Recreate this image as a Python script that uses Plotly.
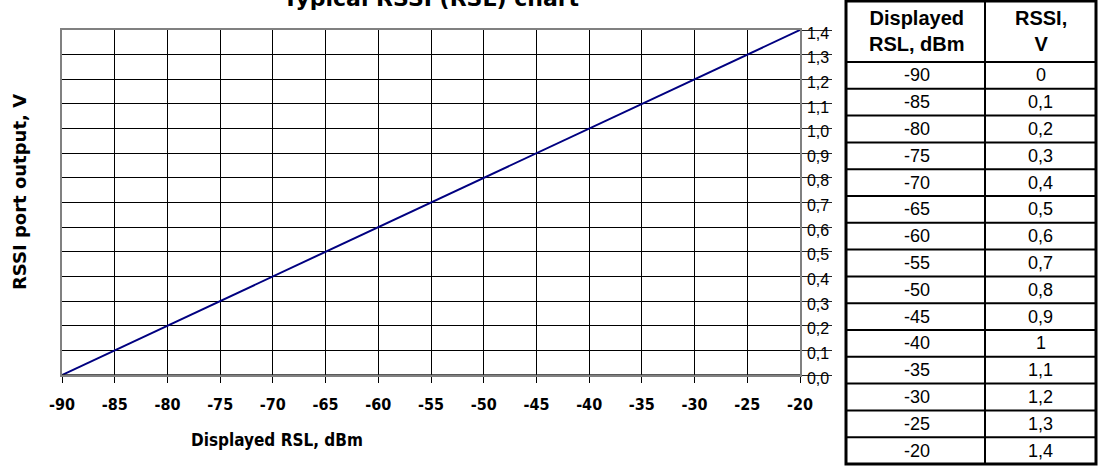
import plotly.graph_objects as go

# ---- data ----
rsl_dbm = [-90, -85, -80, -75, -70, -65, -60, -55, -50, -45, -40, -35, -30, -25, -20]
rssi_v = [0.0, 0.1, 0.2, 0.3, 0.4, 0.5, 0.6, 0.7, 0.8, 0.9, 1.0, 1.1, 1.2, 1.3, 1.4]
x_ticks = [-90, -85, -80, -75, -70, -65, -60, -55, -50, -45, -40, -35, -30, -25, -20]
title_text = "Typical RSSI (RSL) chart"
x_title = "Displayed RSL, dBm"
y_title = "RSSI port output, V"
table_headers = ["Displayed<br>RSL, dBm", "RSSI,<br>V"]

# ---- layout geometry (pixels) ----
W, H = 1098, 466
L, R, T, B = 62, 800, 30, 375


def fx(px):
    return (px - L) / (R - L)


def fy(py):
    return (B - py) / (B - T)


FONT = "Liberation Sans, Arial, sans-serif"
WIDE = "DejaVu Sans, Verdana, sans-serif"
COND = "DejaVu Sans Condensed, Liberation Sans, Arial, sans-serif"

fig = go.Figure()
fig.add_trace(go.Scatter(
    x=rsl_dbm, y=rssi_v, mode="lines",
    line=dict(color="#000080", width=2),
    showlegend=False, hoverinfo="skip", cliponaxis=False,
))

fig.update_layout(
    width=W, height=H,
    margin=dict(l=L, r=W - R, t=T, b=H - B, autoexpand=False),
    paper_bgcolor="white", plot_bgcolor="white",
    separators=", ",
    showlegend=False,
    xaxis=dict(
        range=[-90, -20], tickvals=x_ticks, ticktext=[str(v) for v in x_ticks],
        showgrid=True, gridcolor="black", gridwidth=1,
        showline=True, linecolor="#808080", linewidth=1.5, mirror=True,
        ticks="outside", ticklen=6, tickcolor="black", tickwidth=1,
        ticklabelstandoff=8,
        tickfont=dict(family=COND, size=16, color="black", weight="bold"),
        zeroline=False,
    ),
    yaxis=dict(
        range=[0, 1.4], dtick=0.1, tick0=0, tickformat=".1f", side="right",
        showgrid=True, gridcolor="black", gridwidth=1,
        showline=True, linecolor="#808080", linewidth=1.5, mirror=True,
        ticks="outside", ticklen=30, tickcolor="#222", tickwidth=1,
        ticklabelstandoff=-28, ticklabelshift=3,
        tickfont=dict(family=FONT, size=16, color="black"),
        zeroline=False,
    ),
)

# dark baseline at y = 0
fig.add_shape(type="line", xref="paper", yref="y", x0=0, x1=1, y0=0, y1=0,
              line=dict(color="#222", width=1.5))

annotations = []
# chart title (cut off at top, as in the reference)
annotations.append(dict(text="<b>%s</b>" % title_text, xref="paper", yref="paper",
                        x=fx(431), y=fy(13), xanchor="center", yanchor="bottom",
                        showarrow=False, font=dict(family=WIDE, size=22, color="black")))
# x title
annotations.append(dict(text="<b>%s</b>" % x_title, xref="paper", yref="paper",
                        x=fx(277), y=fy(440), xanchor="center", yanchor="middle",
                        showarrow=False, font=dict(family=COND, size=17, color="black")))
# y title
annotations.append(dict(text="<b>%s</b>" % y_title, xref="paper", yref="paper",
                        x=fx(20), y=fy(192), xanchor="center", yanchor="middle", textangle=-90,
                        showarrow=False, font=dict(family=WIDE, size=18, color="black")))

# ---- table ----
tL, tM, tR = 846, 985, 1096
tTop, tHead, tBot = 1, 62, 464
n = len(rsl_dbm)
rowh = (tBot - tHead) / n
shapes = []
for i in range(n):
    yy = tHead + i * rowh
    shapes.append(dict(type="line", xref="paper", yref="paper",
                       x0=fx(tL), x1=fx(tR), y0=fy(yy), y1=fy(yy),
                       line=dict(color="black", width=2)))
shapes.append(dict(type="line", xref="paper", yref="paper",
                   x0=fx(tM), x1=fx(tM), y0=fy(tTop), y1=fy(tBot),
                   line=dict(color="black", width=2)))
shapes.append(dict(type="rect", xref="paper", yref="paper",
                   x0=fx(tL), x1=fx(tR), y0=fy(tTop), y1=fy(tBot),
                   line=dict(color="black", width=3)))
for s in shapes:
    fig.add_shape(**s)

c1 = (tL + tM) / 2 + 2
c2 = (tM + tR) / 2
for txt, cx in zip(table_headers, [c1, c2]):
    annotations.append(dict(text="<b>%s</b>" % txt, xref="paper", yref="paper",
                            x=fx(cx), y=fy((tTop + tHead) / 2), xanchor="center", yanchor="middle",
                            showarrow=False, font=dict(family=FONT, size=20, color="black")))
for i, (a, b) in enumerate(zip(rsl_dbm, rssi_v)):
    yc = tHead + (i + 0.5) * rowh
    annotations.append(dict(text=str(a), xref="paper", yref="paper",
                            x=fx(c1), y=fy(yc), xanchor="center", yanchor="middle",
                            showarrow=False, font=dict(family=FONT, size=18, color="black")))
    annotations.append(dict(text=("%g" % b).replace(".", ","), xref="paper", yref="paper",
                            x=fx(c2), y=fy(yc), xanchor="center", yanchor="middle",
                            showarrow=False, font=dict(family=FONT, size=18, color="black")))

fig.update_layout(annotations=annotations)
fig.write_html("out.html", config={"displayModeBar": False},
               post_script="document.body.style.margin='0';document.body.style.overflow='hidden';")
